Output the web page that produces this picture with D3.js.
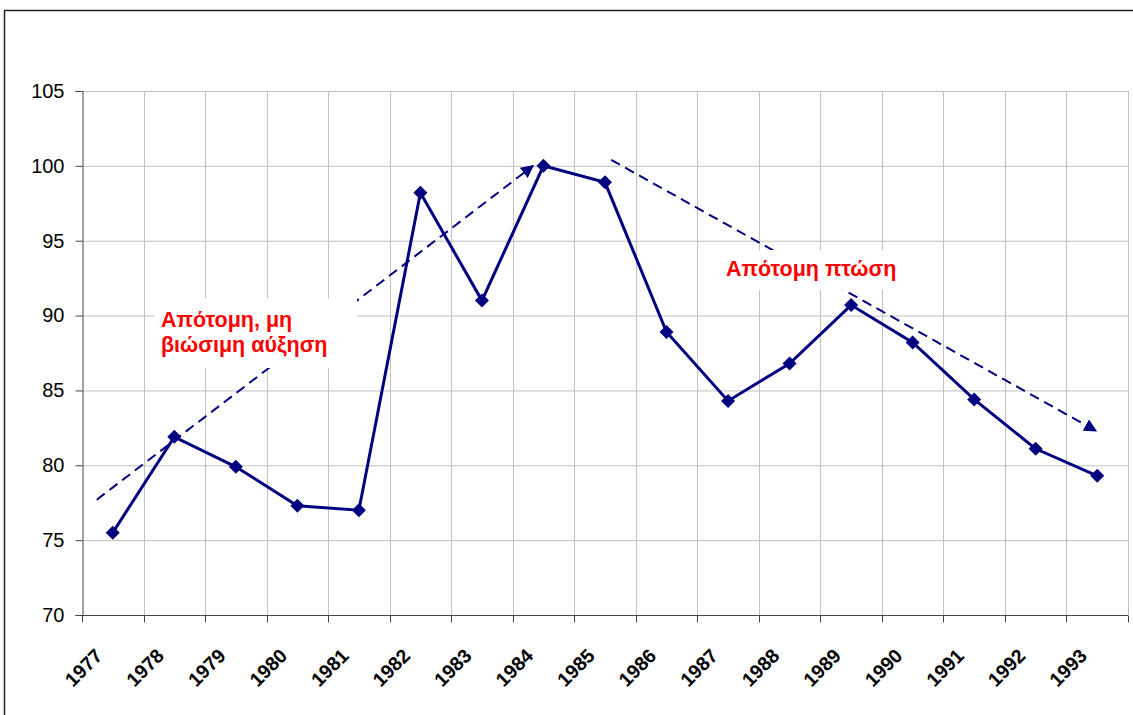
<!DOCTYPE html>
<html><head><meta charset="utf-8">
<script src="https://cdn.jsdelivr.net/npm/d3@7"></script>
<style>body{margin:0;background:#fff}svg{display:block}</style>
</head><body>
<svg id="c" width="1133" height="715"></svg>
<script>
const years = ["1977","1978","1979","1980","1981","1982","1983","1984","1985","1986","1987","1988","1989","1990","1991","1992","1993"];
const values = [75.5,81.9,79.9,77.3,77.0,98.2,91.0,100.0,98.9,88.9,84.3,86.8,90.7,88.2,84.4,81.1,79.3];
const yTicks = [70,75,80,85,90,95,100,105];
// trend arrows: [category position (0 = left edge of 1977 band), value]
const riseArrow = [[0.24,77.7],[7.33,100.0]];
const fallArrow = [[8.6,100.4],[16.48,82.3]];
const riseLabel = ["Απότομη, μη","βιώσιμη αύξηση"];
const fallLabel = ["Απότομη πτώση"];

const svg = d3.select("#c");
const L=82, R=1128, T=91, B=615;
const x = d3.scaleBand().domain(years).range([L,R]).padding(0);
const xp = d3.scaleLinear().domain([0,years.length]).range([L,R]);
const y = d3.scaleLinear().domain([70,105]).range([B,T]);
const navy = "#000080";
const font = "Liberation Sans, Arial, sans-serif";

svg.append("rect").attr("x",4.5).attr("y",10.5).attr("width",1300).attr("height",900)
  .attr("fill","#fff").attr("stroke","#222").attr("stroke-width",1.5);

// gridlines
const g = svg.append("g");
g.selectAll("line.h").data(yTicks.slice(1)).join("line")
  .attr("x1",L).attr("x2",R).attr("y1",d=>y(d)+0.5).attr("y2",d=>y(d)+0.5)
  .attr("stroke","#c0c0c0").attr("stroke-width",1);
g.selectAll("line.v").data(d3.range(1,years.length+1)).join("line")
  .attr("x1",i=>Math.round(xp(i))+0.5).attr("x2",i=>Math.round(xp(i))+0.5)
  .attr("y1",T).attr("y2",B).attr("stroke","#c0c0c0").attr("stroke-width",1);

// arrows
const defs = svg.append("defs");
defs.append("marker").attr("id","ah").attr("viewBox","0 0 10 10").attr("refX",9).attr("refY",5)
  .attr("markerWidth",6.5).attr("markerHeight",6.5).attr("orient","auto")
  .append("path").attr("d","M0,0L10,5L0,10z").attr("fill",navy);
[riseArrow,fallArrow].forEach(a=>{
  svg.append("line").attr("x1",xp(a[0][0])).attr("y1",y(a[0][1]))
    .attr("x2",xp(a[1][0])).attr("y2",y(a[1][1]))
    .attr("stroke",navy).attr("stroke-width",2).attr("stroke-dasharray","10,6")
    .attr("marker-end","url(#ah)");
});

// annotation boxes
function box(lines,bx,by,bw,bh,tx,ty){
  svg.append("rect").attr("x",bx).attr("y",by).attr("width",bw).attr("height",bh).attr("fill","#fff");
  svg.append("text").attr("x",tx).attr("y",ty).attr("fill","#ff0000")
    .attr("font-family",font).attr("font-weight","bold").attr("font-size",21.5)
    .selectAll("tspan").data(lines).join("tspan").attr("x",tx).attr("dy",(d,i)=>i?25:0).text(d=>d);
}
box(riseLabel,155,298,202,70,161,327);
box(fallLabel,713,250,198,40,726,276);

// series
svg.append("path").datum(values)
  .attr("d",d3.line().x((d,i)=>x(years[i])+x.bandwidth()/2).y(d=>y(d)))
  .attr("fill","none").attr("stroke",navy).attr("stroke-width",3);
svg.selectAll("path.m").data(values).join("path")
  .attr("d",d3.symbol().type(d3.symbolDiamond2).size(125))
  .attr("transform",(d,i)=>`translate(${x(years[i])+x.bandwidth()/2},${y(d)})`)
  .attr("fill",navy);

// axes
const ya = svg.append("g").attr("transform",`translate(${L+0.5},0)`)
  .call(d3.axisLeft(y).tickValues(yTicks).tickSize(7).tickPadding(11).tickFormat(d3.format("d")));
ya.select(".domain").attr("stroke","#444");
ya.selectAll(".tick line").attr("stroke","#444");
ya.selectAll("text").attr("font-family",font).attr("font-size",20).attr("fill","#000");

const xa = svg.append("g").attr("transform",`translate(0,${B+0.5})`);
xa.append("line").attr("x1",L).attr("x2",R).attr("stroke","#444");
xa.selectAll("line.t").data(d3.range(years.length+1)).join("line")
  .attr("x1",i=>Math.round(xp(i))+0.5).attr("x2",i=>Math.round(xp(i))+0.5).attr("y1",0).attr("y2",7).attr("stroke","#444");
xa.selectAll("text").data(years).join("text")
  .attr("transform",d=>`translate(${x(d)+x.bandwidth()/2-9},${41.5}) rotate(-45)`)
  .attr("text-anchor","end")
  .attr("font-family",font).attr("font-weight","bold").attr("font-size",19.5)
  .text(d=>d);
</script>
</body></html>
